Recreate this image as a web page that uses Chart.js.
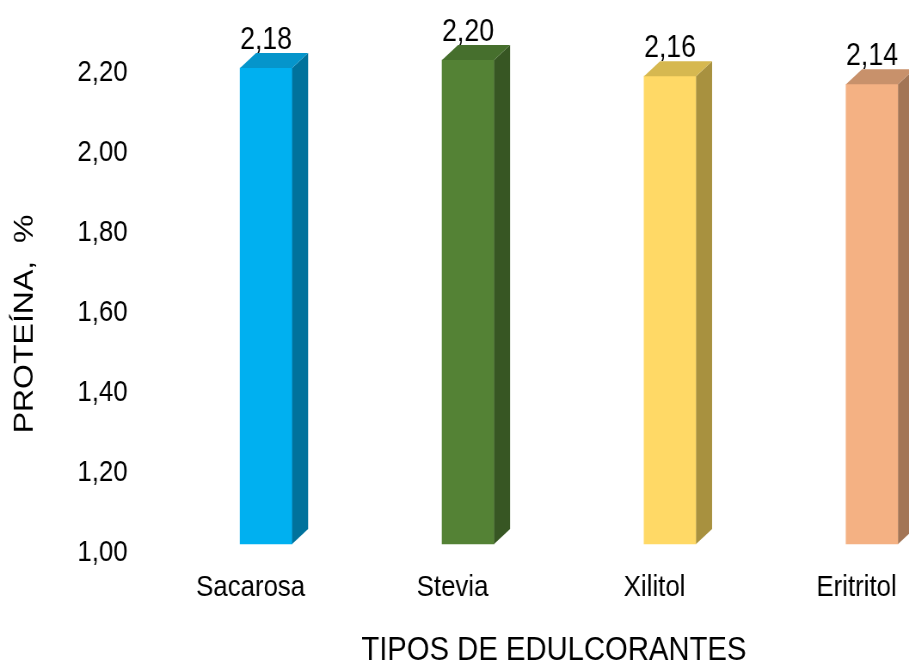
<!DOCTYPE html>
<html>
<head>
<meta charset="utf-8">
<script src="https://cdn.jsdelivr.net/npm/chart.js@4.4.1/dist/chart.umd.min.js"></script>
<style>
  html, body { margin: 0; padding: 0; background: #fff; overflow: hidden; width: 909px; height: 664px; }
  /* the chart is laid out on a wider canvas and narrowed to the page width */
  #wrap { width: 1057px; height: 664px; transform: scaleX(0.86); transform-origin: 0 0; }
</style>
</head>
<body>
<div id="wrap"><canvas id="c" width="1057" height="664"></canvas></div>
<script>
// Data
const categories = ['Sacarosa', 'Stevia', 'Xilitol', 'Eritritol'];
const proteina = [2.18, 2.20, 2.16, 2.14];
const tickValues = [1.00, 1.20, 1.40, 1.60, 1.80, 2.00, 2.20];

// Colours for the front, side and top faces of each column
const frontColors = ['#00B0F0', '#548235', '#FFD966', '#F4B183'];
const sideColors  = ['#00729C', '#375623', '#A8913F', '#A37555'];
const topColors   = ['#0595CB', '#466F2D', '#D6B850', '#C8916B'];

const FONT = '"Liberation Sans", Arial, sans-serif';
const fmt = v => v.toFixed(2).replace('.', ',');

// depth of the 3D extrusion
const depthX = 18.6, depthY = -15;

const bar3d = {
  id: 'bar3d',
  afterDatasetsDraw(chart) {
    const ctx = chart.ctx;
    const meta = chart.getDatasetMeta(0);
    ctx.save();
    meta.data.forEach((bar, i) => {
      const { x, y, base, width } = bar.getProps(['x', 'y', 'base', 'width'], true);
      const l = x - width / 2, r = x + width / 2;
      // side face
      ctx.fillStyle = sideColors[i];
      ctx.beginPath();
      ctx.moveTo(r, y);
      ctx.lineTo(r + depthX, y + depthY);
      ctx.lineTo(r + depthX, base + depthY);
      ctx.lineTo(r, base);
      ctx.closePath();
      ctx.fill();
      // top face
      ctx.fillStyle = topColors[i];
      ctx.beginPath();
      ctx.moveTo(l, y);
      ctx.lineTo(l + depthX, y + depthY);
      ctx.lineTo(r + depthX, y + depthY);
      ctx.lineTo(r, y);
      ctx.closePath();
      ctx.fill();
      // value label
      ctx.fillStyle = '#000';
      ctx.font = '31px ' + FONT;
      ctx.textAlign = 'center';
      ctx.textBaseline = 'alphabetic';
      ctx.fillText(fmt(proteina[i]), x, y - 19);
    });
    ctx.restore();
  }
};

// axis titles
const axisTitles = {
  id: 'axisTitles',
  afterDraw(chart) {
    const ctx = chart.ctx;
    ctx.save();
    ctx.fillStyle = '#000';
    ctx.textAlign = 'center';
    ctx.textBaseline = 'middle';
    ctx.font = '34px ' + FONT;
    ctx.fillText('TIPOS DE EDULCORANTES', 644, 651);
    ctx.translate(29, 324);
    ctx.rotate(-Math.PI / 2);
    ctx.font = '32px ' + FONT;
    ctx.fillText('PROTEÍNA,  %', 0, 0);
    ctx.restore();
  }
};

Chart.defaults.font.family = FONT;
Chart.defaults.color = '#000';

new Chart(document.getElementById('c'), {
  type: 'bar',
  data: {
    labels: categories,
    datasets: [{
      data: proteina,
      yAxisID: 'yb',
      base: 1,
      backgroundColor: frontColors,
      borderWidth: 0,
      barThickness: 60.5,
      clip: false
    }]
  },
  options: {
    responsive: false,
    animation: false,
    layout: { padding: { left: 90, right: 43, top: 73, bottom: 0 } },
    plugins: { legend: { display: false }, tooltip: { enabled: false } },
    scales: {
      x: {
        type: 'category',
        offset: false,
        grid: { display: false, drawTicks: false },
        border: { display: false },
        ticks: { font: { size: 30 }, color: '#000', padding: 17, labelOffset: -18, maxRotation: 0, autoSkip: false },
        afterFit: s => { s.height = 111; s.paddingLeft = 0; s.paddingRight = 0; }
      },
      y: {
        type: 'linear',
        position: 'left',
        min: 1,
        max: 2.2,
        grid: { display: false, drawTicks: false },
        border: { display: false },
        afterBuildTicks: s => { s.ticks = tickValues.map(v => ({ value: v })); },
        ticks: { font: { size: 30 }, color: '#000', padding: 161, callback: v => fmt(v) },
        afterFit: s => { s.width = 219.4; s.paddingTop = 0; s.paddingBottom = 0; }
      },
      yb: {
        type: 'linear',
        display: false,
        min: 0.9777,
        max: 2.1679
      }
    }
  },
  plugins: [bar3d, axisTitles]
});
</script>
</body>
</html>
